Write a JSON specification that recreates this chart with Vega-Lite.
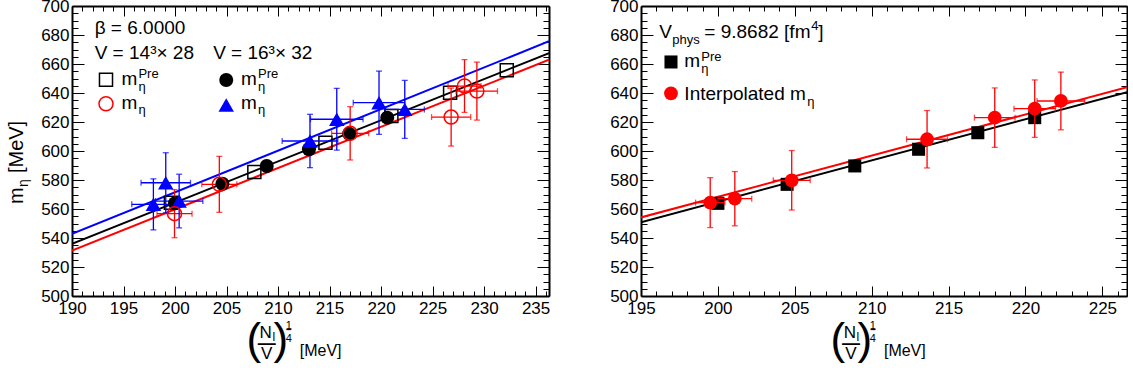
{
  "$schema": "https://vega.github.io/schema/vega-lite/v6.json",
  "background": "white",
  "padding": {"left": 6, "top": -3, "right": 0, "bottom": 0},
  "spacing": 59,
  "config": {"view": {"stroke": null}, "font": "Liberation Sans", "text": {"font": "Liberation Sans", "color": "black"}},
  "datasets": {
    "lLines": [
      {"series": "blue", "x": 190, "y": 542.8}, {"series": "blue", "x": 236.3, "y": 675.7},
      {"series": "black", "x": 190, "y": 536.0}, {"series": "black", "x": 236.3, "y": 667.5},
      {"series": "red", "x": 190, "y": 531.4}, {"series": "red", "x": 236.3, "y": 663.0}
    ],
    "lSq": [
      {"x": 199.6, "y": 564.3}, {"x": 207.7, "y": 585.5}, {"x": 214.6, "y": 605.7},
      {"x": 221.0, "y": 624.1}, {"x": 226.7, "y": 640.2}, {"x": 232.2, "y": 655.7}
    ],
    "lBC": [
      {"x": 200.0, "y": 564.0}, {"x": 204.6, "y": 577.4}, {"x": 208.9, "y": 589.7},
      {"x": 213.0, "y": 601.2}, {"x": 216.9, "y": 611.9}, {"x": 220.6, "y": 623.0}
    ],
    "lRC": [
      {"x": 199.95, "y": 556.8, "xlo": 198.25, "xhi": 201.65, "ylo": 540.2, "yhi": 573.4},
      {"x": 204.3, "y": 577.0, "xlo": 202.6, "xhi": 206.0, "ylo": 557.7, "yhi": 596.3},
      {"x": 217.0, "y": 612.2, "xlo": 215.2, "xhi": 218.8, "ylo": 593.8, "yhi": 630.6},
      {"x": 226.8, "y": 623.4, "xlo": 224.9, "xhi": 228.7, "ylo": 603.4, "yhi": 643.4},
      {"x": 228.1, "y": 644.8, "xlo": 226.5, "xhi": 229.7, "ylo": 626.6, "yhi": 663.0},
      {"x": 229.3, "y": 641.3, "xlo": 227.3, "xhi": 231.3, "ylo": 621.3, "yhi": 661.3}
    ],
    "lBT": [
      {"x": 197.9, "y": 563.2, "xlo": 195.8, "xhi": 200.0, "ylo": 545.6, "yhi": 580.8},
      {"x": 199.1, "y": 578.1, "xlo": 196.7, "xhi": 201.5, "ylo": 557.4, "yhi": 598.8},
      {"x": 200.4, "y": 565.5, "xlo": 198.1, "xhi": 202.7, "ylo": 547.0, "yhi": 584.0},
      {"x": 213.1, "y": 606.9, "xlo": 210.4, "xhi": 215.8, "ylo": 588.5, "yhi": 625.3},
      {"x": 215.7, "y": 621.9, "xlo": 213.15, "xhi": 218.25, "ylo": 600.6, "yhi": 643.2},
      {"x": 219.8, "y": 633.3, "xlo": 217.3, "xhi": 222.3, "ylo": 611.5, "yhi": 655.1},
      {"x": 222.3, "y": 628.7, "xlo": 220.4, "xhi": 224.2, "ylo": 608.7, "yhi": 648.7}
    ],
    "rLines": [
      {"series": "black", "x": 195, "y": 550.9}, {"series": "black", "x": 226.6, "y": 640.6},
      {"series": "red", "x": 195, "y": 554.2}, {"series": "red", "x": 226.6, "y": 644.0}
    ],
    "rSq": [
      {"x": 200.0, "y": 563.9}, {"x": 204.5, "y": 577.0}, {"x": 208.9, "y": 589.7},
      {"x": 213.05, "y": 601.2}, {"x": 216.9, "y": 612.6}, {"x": 220.6, "y": 623.0}
    ],
    "rRC": [
      {"x": 199.5, "y": 564.4, "xlo": 198.55, "xhi": 200.45, "ylo": 547.2, "yhi": 581.6},
      {"x": 201.1, "y": 567.1, "xlo": 200.0, "xhi": 202.2, "ylo": 548.4, "yhi": 585.8},
      {"x": 204.8, "y": 579.8, "xlo": 203.6, "xhi": 206.0, "ylo": 559.3, "yhi": 600.3},
      {"x": 213.6, "y": 608.1, "xlo": 212.27, "xhi": 214.93, "ylo": 588.3, "yhi": 627.9},
      {"x": 218.0, "y": 623.0, "xlo": 216.68, "xhi": 219.32, "ylo": 602.5, "yhi": 643.5},
      {"x": 220.6, "y": 629.2, "xlo": 219.25, "xhi": 221.95, "ylo": 609.4, "yhi": 649.0},
      {"x": 222.3, "y": 634.5, "xlo": 220.75, "xhi": 223.85, "ylo": 614.6, "yhi": 654.4}
    ]
  },
  "hconcat": [
    {
      "width": 477,
      "height": 290,
      "resolve": {"axis": {"x": "independent", "y": "independent"}},
      "layer": [
        {
          "data": {"name": "lLines"},
          "mark": {"type": "line", "strokeWidth": 2, "clip": true},
          "encoding": {
            "x": {"field": "x", "type": "quantitative", "scale": {"domain": [190, 236.3], "nice": false, "zero": false},
              "axis": {"orient": "bottom", "values": [190,191,192,193,194,195,196,197,198,199,200,201,202,203,204,205,206,207,208,209,210,211,212,213,214,215,216,217,218,219,220,221,222,223,224,225,226,227,228,229,230,231,232,233,234,235,236],
                "labelExpr": "datum.value % 5 === 0 ? datum.label : ''",
                "tickSize": {"condition": {"test": "datum.value % 5 === 0", "value": -10}, "value": -5},
                "tickColor": "black", "tickWidth": 1, "domainColor": "black", "domainWidth": 2,
                "labelColor": "black", "labelFont": "Liberation Sans", "labelFontSize": 17, "labelPadding": 14,
                "labelFlush": false, "labelOverlap": false, "labelBound": false, "grid": false, "title": null}},
            "y": {"field": "y", "type": "quantitative", "scale": {"domain": [500, 700], "nice": false, "zero": false},
              "axis": {"orient": "left", "values": [500,505,510,515,520,525,530,535,540,545,550,555,560,565,570,575,580,585,590,595,600,605,610,615,620,625,630,635,640,645,650,655,660,665,670,675,680,685,690,695,700],
                "labelExpr": "datum.value % 20 === 0 ? datum.label : ''",
                "tickSize": {"condition": {"test": "datum.value % 20 === 0", "value": -12}, "value": -6},
                "tickColor": "black", "tickWidth": 1, "domainColor": "black", "domainWidth": 2,
                "labelColor": "black", "labelFont": "Liberation Sans", "labelFontSize": 17, "labelPadding": 15,
                "labelFlush": false, "labelOverlap": false, "labelBound": false, "grid": false, "title": null}},
            "color": {"field": "series", "type": "nominal", "scale": {"domain": ["black", "blue", "red"], "range": ["#000000", "#0000ff", "#ff0000"]}, "legend": null}
          }
        },
        {
          "data": {"name": "lSq"},
          "mark": {"type": "point", "shape": "square", "filled": false, "stroke": "black", "strokeWidth": 1.5, "size": 170, "opacity": 1},
          "encoding": {
            "x": {"field": "x", "type": "quantitative",
              "axis": {"orient": "top", "values": [190,191,192,193,194,195,196,197,198,199,200,201,202,203,204,205,206,207,208,209,210,211,212,213,214,215,216,217,218,219,220,221,222,223,224,225,226,227,228,229,230,231,232,233,234,235,236],
                "labels": false, "tickSize": {"condition": {"test": "datum.value % 5 === 0", "value": -10}, "value": -5},
                "tickColor": "black", "tickWidth": 1, "domainColor": "black", "domainWidth": 2, "grid": false, "title": null}},
            "y": {"field": "y", "type": "quantitative",
              "axis": {"orient": "right", "values": [500,505,510,515,520,525,530,535,540,545,550,555,560,565,570,575,580,585,590,595,600,605,610,615,620,625,630,635,640,645,650,655,660,665,670,675,680,685,690,695,700],
                "labels": false, "tickSize": {"condition": {"test": "datum.value % 20 === 0", "value": -12}, "value": -6},
                "tickColor": "black", "tickWidth": 1, "domainColor": "black", "domainWidth": 2, "grid": false, "title": null}}
          }
        },
        {
          "data": {"name": "lRC"},
          "mark": {"type": "errorbar", "ticks": true, "color": "#ff0000", "thickness": 1.3, "size": 6},
          "encoding": {"x": {"field": "x", "type": "quantitative", "axis": null}, "y": {"field": "ylo", "type": "quantitative", "axis": null}, "y2": {"field": "yhi"}}
        },
        {
          "data": {"name": "lRC"},
          "mark": {"type": "errorbar", "ticks": true, "color": "#ff0000", "thickness": 1.3, "size": 6},
          "encoding": {"y": {"field": "y", "type": "quantitative", "axis": null}, "x": {"field": "xlo", "type": "quantitative", "axis": null}, "x2": {"field": "xhi"}}
        },
        {
          "data": {"name": "lBT"},
          "mark": {"type": "errorbar", "ticks": true, "color": "#0000ff", "thickness": 1.3, "size": 6},
          "encoding": {"x": {"field": "x", "type": "quantitative", "axis": null}, "y": {"field": "ylo", "type": "quantitative", "axis": null}, "y2": {"field": "yhi"}}
        },
        {
          "data": {"name": "lBT"},
          "mark": {"type": "errorbar", "ticks": true, "color": "#0000ff", "thickness": 1.3, "size": 6},
          "encoding": {"y": {"field": "y", "type": "quantitative", "axis": null}, "x": {"field": "xlo", "type": "quantitative", "axis": null}, "x2": {"field": "xhi"}}
        },
        {
          "data": {"name": "lBC"},
          "mark": {"type": "point", "shape": "circle", "filled": true, "color": "black", "size": 196, "opacity": 1},
          "encoding": {"x": {"field": "x", "type": "quantitative", "axis": null}, "y": {"field": "y", "type": "quantitative", "axis": null}}
        },
        {
          "data": {"name": "lBT"},
          "mark": {"type": "point", "shape": "triangle-up", "filled": true, "color": "#0000ff", "size": 240, "opacity": 1},
          "encoding": {"x": {"field": "x", "type": "quantitative", "axis": null}, "y": {"field": "y", "type": "quantitative", "axis": null}}
        },
        {
          "data": {"name": "lRC"},
          "mark": {"type": "point", "shape": "circle", "filled": false, "stroke": "#ff0000", "strokeWidth": 1.5, "size": 196, "opacity": 1},
          "encoding": {"x": {"field": "x", "type": "quantitative", "axis": null}, "y": {"field": "y", "type": "quantitative", "axis": null}}
        },
        {"data": {"values": [{}]}, "mark": {"type": "text", "text": "β = 6.0000", "fontSize": 19, "align": "left", "baseline": "alphabetic"},
          "encoding": {"x": {"datum": 192.2, "axis": null}, "y": {"datum": 680.5, "axis": null}}},
        {"data": {"values": [{}]}, "mark": {"type": "text", "text": "V = 14³× 28", "fontSize": 19, "align": "left", "baseline": "alphabetic"},
          "encoding": {"x": {"datum": 192.2, "axis": null}, "y": {"datum": 663.2, "axis": null}}},
        {"data": {"values": [{}]}, "mark": {"type": "text", "text": "V = 16³× 32", "fontSize": 19, "align": "left", "baseline": "alphabetic"},
          "encoding": {"x": {"datum": 203.7, "axis": null}, "y": {"datum": 663.2, "axis": null}}},
        {"data": {"values": [{}]}, "mark": {"type": "point", "shape": "square", "filled": false, "stroke": "black", "strokeWidth": 1.5, "size": 170, "opacity": 1},
          "encoding": {"x": {"datum": 193.3, "axis": null}, "y": {"datum": 649.2, "axis": null}}},
        {"data": {"values": [{}]}, "mark": {"type": "point", "shape": "circle", "filled": false, "stroke": "#ff0000", "strokeWidth": 1.5, "size": 196, "opacity": 1},
          "encoding": {"x": {"datum": 193.3, "axis": null}, "y": {"datum": 632.6, "axis": null}}},
        {"data": {"values": [{}]}, "mark": {"type": "point", "shape": "circle", "filled": true, "color": "black", "size": 196, "opacity": 1},
          "encoding": {"x": {"datum": 204.97, "axis": null}, "y": {"datum": 649.0, "axis": null}}},
        {"data": {"values": [{}]}, "mark": {"type": "point", "shape": "triangle-up", "filled": true, "color": "#0000ff", "size": 240, "opacity": 1},
          "encoding": {"x": {"datum": 204.97, "axis": null}, "y": {"datum": 631.7, "axis": null}}},
        {"data": {"values": [{}]}, "mark": {"type": "text", "text": "m", "fontSize": 19, "align": "left", "baseline": "alphabetic"},
          "encoding": {"x": {"datum": 194.8, "axis": null}, "y": {"datum": 645.5, "axis": null}}},
        {"data": {"values": [{}]}, "mark": {"type": "text", "text": "Pre", "fontSize": 13, "align": "left", "baseline": "alphabetic", "dx": 17, "dy": -7},
          "encoding": {"x": {"datum": 194.8, "axis": null}, "y": {"datum": 645.5, "axis": null}}},
        {"data": {"values": [{}]}, "mark": {"type": "text", "text": "η", "fontSize": 13, "align": "left", "baseline": "alphabetic", "dx": 17, "dy": 6},
          "encoding": {"x": {"datum": 194.8, "axis": null}, "y": {"datum": 645.5, "axis": null}}},
        {"data": {"values": [{}]}, "mark": {"type": "text", "text": "m", "fontSize": 19, "align": "left", "baseline": "alphabetic"},
          "encoding": {"x": {"datum": 194.8, "axis": null}, "y": {"datum": 628.8, "axis": null}}},
        {"data": {"values": [{}]}, "mark": {"type": "text", "text": "η", "fontSize": 13, "align": "left", "baseline": "alphabetic", "dx": 17, "dy": 5},
          "encoding": {"x": {"datum": 194.8, "axis": null}, "y": {"datum": 628.8, "axis": null}}},
        {"data": {"values": [{}]}, "mark": {"type": "text", "text": "m", "fontSize": 19, "align": "left", "baseline": "alphabetic"},
          "encoding": {"x": {"datum": 206.4, "axis": null}, "y": {"datum": 645.5, "axis": null}}},
        {"data": {"values": [{}]}, "mark": {"type": "text", "text": "Pre", "fontSize": 13, "align": "left", "baseline": "alphabetic", "dx": 17, "dy": -7},
          "encoding": {"x": {"datum": 206.4, "axis": null}, "y": {"datum": 645.5, "axis": null}}},
        {"data": {"values": [{}]}, "mark": {"type": "text", "text": "η", "fontSize": 13, "align": "left", "baseline": "alphabetic", "dx": 17, "dy": 6},
          "encoding": {"x": {"datum": 206.4, "axis": null}, "y": {"datum": 645.5, "axis": null}}},
        {"data": {"values": [{}]}, "mark": {"type": "text", "text": "m", "fontSize": 19, "align": "left", "baseline": "alphabetic"},
          "encoding": {"x": {"datum": 206.4, "axis": null}, "y": {"datum": 628.8, "axis": null}}},
        {"data": {"values": [{}]}, "mark": {"type": "text", "text": "η", "fontSize": 13, "align": "left", "baseline": "alphabetic", "dx": 17, "dy": 5},
          "encoding": {"x": {"datum": 206.4, "axis": null}, "y": {"datum": 628.8, "axis": null}}},
        {"data": {"values": [{}]}, "mark": {"type": "text", "text": "m", "fontSize": 20, "align": "left", "baseline": "alphabetic", "angle": 270},
          "encoding": {"x": {"datum": 185.2, "axis": null}, "y": {"datum": 563.4, "axis": null}}},
        {"data": {"values": [{}]}, "mark": {"type": "text", "text": "η", "fontSize": 14, "align": "left", "baseline": "alphabetic", "angle": 270, "dx": 17, "dy": 5},
          "encoding": {"x": {"datum": 185.2, "axis": null}, "y": {"datum": 563.4, "axis": null}}},
        {"data": {"values": [{}]}, "mark": {"type": "text", "text": "[MeV]", "fontSize": 20, "align": "left", "baseline": "alphabetic", "angle": 270, "dx": 31},
          "encoding": {"x": {"datum": 185.2, "axis": null}, "y": {"datum": 563.4, "axis": null}}},
        {"data": {"values": [{}]}, "mark": {"type": "text", "text": "(", "fontSize": 44, "align": "center", "baseline": "alphabetic", "dx": -13, "dy": 58},
          "encoding": {"x": {"datum": 208.9, "axis": null}, "y": {"datum": 500, "axis": null}}},
        {"data": {"values": [{}]}, "mark": {"type": "text", "text": ")", "fontSize": 44, "align": "center", "baseline": "alphabetic", "dx": 14, "dy": 58},
          "encoding": {"x": {"datum": 208.9, "axis": null}, "y": {"datum": 500, "axis": null}}},
        {"data": {"values": [{}]}, "mark": {"type": "text", "text": "N", "fontSize": 17, "align": "center", "baseline": "alphabetic", "dx": -1, "dy": 42},
          "encoding": {"x": {"datum": 208.9, "axis": null}, "y": {"datum": 500, "axis": null}}},
        {"data": {"values": [{}]}, "mark": {"type": "text", "text": "l", "fontSize": 12, "align": "center", "baseline": "alphabetic", "dx": 7, "dy": 45},
          "encoding": {"x": {"datum": 208.9, "axis": null}, "y": {"datum": 500, "axis": null}}},
        {"data": {"values": [{}]}, "mark": {"type": "text", "text": "—", "fontSize": 18, "fontWeight": "bold", "align": "center", "baseline": "alphabetic", "dx": 0, "dy": 53},
          "encoding": {"x": {"datum": 208.9, "axis": null}, "y": {"datum": 500, "axis": null}}},
        {"data": {"values": [{}]}, "mark": {"type": "text", "text": "V", "fontSize": 17, "align": "center", "baseline": "alphabetic", "dx": 0, "dy": 63},
          "encoding": {"x": {"datum": 208.9, "axis": null}, "y": {"datum": 500, "axis": null}}},
        {"data": {"values": [{}]}, "mark": {"type": "text", "text": "1", "fontSize": 11, "align": "center", "baseline": "alphabetic", "dx": 22, "dy": 33},
          "encoding": {"x": {"datum": 208.9, "axis": null}, "y": {"datum": 500, "axis": null}}},
        {"data": {"values": [{}]}, "mark": {"type": "text", "text": "–", "fontSize": 10, "fontWeight": "bold", "align": "center", "baseline": "alphabetic", "dx": 22, "dy": 37},
          "encoding": {"x": {"datum": 208.9, "axis": null}, "y": {"datum": 500, "axis": null}}},
        {"data": {"values": [{}]}, "mark": {"type": "text", "text": "4", "fontSize": 11, "align": "center", "baseline": "alphabetic", "dx": 22, "dy": 46},
          "encoding": {"x": {"datum": 208.9, "axis": null}, "y": {"datum": 500, "axis": null}}},
        {"data": {"values": [{}]}, "mark": {"type": "text", "text": "[MeV]", "fontSize": 16, "align": "left", "baseline": "alphabetic", "dx": 33, "dy": 60},
          "encoding": {"x": {"datum": 208.9, "axis": null}, "y": {"datum": 500, "axis": null}}}
      ]
    },
    {
      "width": 486,
      "height": 290,
      "resolve": {"axis": {"x": "independent", "y": "independent"}},
      "layer": [
        {
          "data": {"name": "rLines"},
          "mark": {"type": "line", "strokeWidth": 2, "clip": true},
          "encoding": {
            "x": {"field": "x", "type": "quantitative", "scale": {"domain": [195, 226.6], "nice": false, "zero": false},
              "axis": {"orient": "bottom", "values": [195,196,197,198,199,200,201,202,203,204,205,206,207,208,209,210,211,212,213,214,215,216,217,218,219,220,221,222,223,224,225,226],
                "labelExpr": "datum.value % 5 === 0 ? datum.label : ''",
                "tickSize": {"condition": {"test": "datum.value % 5 === 0", "value": -10}, "value": -5},
                "tickColor": "black", "tickWidth": 1, "domainColor": "black", "domainWidth": 2,
                "labelColor": "black", "labelFont": "Liberation Sans", "labelFontSize": 17, "labelPadding": 14,
                "labelFlush": false, "labelOverlap": false, "labelBound": false, "grid": false, "title": null}},
            "y": {"field": "y", "type": "quantitative", "scale": {"domain": [500, 700], "nice": false, "zero": false},
              "axis": {"orient": "left", "values": [500,505,510,515,520,525,530,535,540,545,550,555,560,565,570,575,580,585,590,595,600,605,610,615,620,625,630,635,640,645,650,655,660,665,670,675,680,685,690,695,700],
                "labelExpr": "datum.value % 20 === 0 ? datum.label : ''",
                "tickSize": {"condition": {"test": "datum.value % 20 === 0", "value": -12}, "value": -6},
                "tickColor": "black", "tickWidth": 1, "domainColor": "black", "domainWidth": 2,
                "labelColor": "black", "labelFont": "Liberation Sans", "labelFontSize": 17, "labelPadding": 15,
                "labelFlush": false, "labelOverlap": false, "labelBound": false, "grid": false, "title": null}},
            "color": {"field": "series", "type": "nominal", "scale": {"domain": ["black", "red"], "range": ["#000000", "#ff0000"]}, "legend": null}
          }
        },
        {
          "data": {"name": "rSq"},
          "mark": {"type": "point", "shape": "square", "filled": true, "color": "black", "size": 170, "opacity": 1},
          "encoding": {
            "x": {"field": "x", "type": "quantitative",
              "axis": {"orient": "top", "values": [195,196,197,198,199,200,201,202,203,204,205,206,207,208,209,210,211,212,213,214,215,216,217,218,219,220,221,222,223,224,225,226],
                "labels": false, "tickSize": {"condition": {"test": "datum.value % 5 === 0", "value": -10}, "value": -5},
                "tickColor": "black", "tickWidth": 1, "domainColor": "black", "domainWidth": 2, "grid": false, "title": null}},
            "y": {"field": "y", "type": "quantitative",
              "axis": {"orient": "right", "values": [500,505,510,515,520,525,530,535,540,545,550,555,560,565,570,575,580,585,590,595,600,605,610,615,620,625,630,635,640,645,650,655,660,665,670,675,680,685,690,695,700],
                "labels": false, "tickSize": {"condition": {"test": "datum.value % 20 === 0", "value": -12}, "value": -6},
                "tickColor": "black", "tickWidth": 1, "domainColor": "black", "domainWidth": 2, "grid": false, "title": null}}
          }
        },
        {
          "data": {"name": "rRC"},
          "mark": {"type": "errorbar", "ticks": true, "color": "#ff0000", "thickness": 1.3, "size": 6},
          "encoding": {"x": {"field": "x", "type": "quantitative", "axis": null}, "y": {"field": "ylo", "type": "quantitative", "axis": null}, "y2": {"field": "yhi"}}
        },
        {
          "data": {"name": "rRC"},
          "mark": {"type": "errorbar", "ticks": true, "color": "#ff0000", "thickness": 1.3, "size": 6},
          "encoding": {"y": {"field": "y", "type": "quantitative", "axis": null}, "x": {"field": "xlo", "type": "quantitative", "axis": null}, "x2": {"field": "xhi"}}
        },
        {
          "data": {"name": "rRC"},
          "mark": {"type": "point", "shape": "circle", "filled": true, "color": "#ff0000", "size": 190, "opacity": 1},
          "encoding": {"x": {"field": "x", "type": "quantitative", "axis": null}, "y": {"field": "y", "type": "quantitative", "axis": null}}
        },
        {"data": {"values": [{}]}, "mark": {"type": "text", "text": "V", "fontSize": 19, "align": "left", "baseline": "alphabetic"},
          "encoding": {"x": {"datum": 196.19, "axis": null}, "y": {"datum": 677.7, "axis": null}}},
        {"data": {"values": [{}]}, "mark": {"type": "text", "text": "phys", "fontSize": 13, "align": "left", "baseline": "alphabetic", "dx": 13, "dy": 6},
          "encoding": {"x": {"datum": 196.19, "axis": null}, "y": {"datum": 677.7, "axis": null}}},
        {"data": {"values": [{}]}, "mark": {"type": "text", "text": "= 9.8682 [fm", "fontSize": 19, "align": "left", "baseline": "alphabetic", "dx": 45},
          "encoding": {"x": {"datum": 196.19, "axis": null}, "y": {"datum": 677.7, "axis": null}}},
        {"data": {"values": [{}]}, "mark": {"type": "text", "text": "4", "fontSize": 13, "align": "left", "baseline": "alphabetic", "dx": 152, "dy": -8},
          "encoding": {"x": {"datum": 196.19, "axis": null}, "y": {"datum": 677.7, "axis": null}}},
        {"data": {"values": [{}]}, "mark": {"type": "text", "text": "]", "fontSize": 19, "align": "left", "baseline": "alphabetic", "dx": 159},
          "encoding": {"x": {"datum": 196.19, "axis": null}, "y": {"datum": 677.7, "axis": null}}},
        {"data": {"values": [{}]}, "mark": {"type": "point", "shape": "square", "filled": true, "color": "black", "size": 170, "opacity": 1},
          "encoding": {"x": {"datum": 196.95, "axis": null}, "y": {"datum": 661.4, "axis": null}}},
        {"data": {"values": [{}]}, "mark": {"type": "point", "shape": "circle", "filled": true, "color": "#ff0000", "size": 190, "opacity": 1},
          "encoding": {"x": {"datum": 196.95, "axis": null}, "y": {"datum": 639.8, "axis": null}}},
        {"data": {"values": [{}]}, "mark": {"type": "text", "text": "m", "fontSize": 19, "align": "left", "baseline": "alphabetic"},
          "encoding": {"x": {"datum": 197.82, "axis": null}, "y": {"datum": 657.9, "axis": null}}},
        {"data": {"values": [{}]}, "mark": {"type": "text", "text": "Pre", "fontSize": 13, "align": "left", "baseline": "alphabetic", "dx": 17, "dy": -6},
          "encoding": {"x": {"datum": 197.82, "axis": null}, "y": {"datum": 657.9, "axis": null}}},
        {"data": {"values": [{}]}, "mark": {"type": "text", "text": "η", "fontSize": 13, "align": "left", "baseline": "alphabetic", "dx": 17, "dy": 6},
          "encoding": {"x": {"datum": 197.82, "axis": null}, "y": {"datum": 657.9, "axis": null}}},
        {"data": {"values": [{}]}, "mark": {"type": "text", "text": "Interpolated m", "fontSize": 19, "align": "left", "baseline": "alphabetic"},
          "encoding": {"x": {"datum": 197.82, "axis": null}, "y": {"datum": 635.2, "axis": null}}},
        {"data": {"values": [{}]}, "mark": {"type": "text", "text": "η", "fontSize": 13, "align": "left", "baseline": "alphabetic", "dx": 123, "dy": 6},
          "encoding": {"x": {"datum": 197.82, "axis": null}, "y": {"datum": 635.2, "axis": null}}},
        {"data": {"values": [{}]}, "mark": {"type": "text", "text": "(", "fontSize": 44, "align": "center", "baseline": "alphabetic", "dx": -13, "dy": 58},
          "encoding": {"x": {"datum": 208.65, "axis": null}, "y": {"datum": 500, "axis": null}}},
        {"data": {"values": [{}]}, "mark": {"type": "text", "text": ")", "fontSize": 44, "align": "center", "baseline": "alphabetic", "dx": 14, "dy": 58},
          "encoding": {"x": {"datum": 208.65, "axis": null}, "y": {"datum": 500, "axis": null}}},
        {"data": {"values": [{}]}, "mark": {"type": "text", "text": "N", "fontSize": 17, "align": "center", "baseline": "alphabetic", "dx": -1, "dy": 42},
          "encoding": {"x": {"datum": 208.65, "axis": null}, "y": {"datum": 500, "axis": null}}},
        {"data": {"values": [{}]}, "mark": {"type": "text", "text": "l", "fontSize": 12, "align": "center", "baseline": "alphabetic", "dx": 7, "dy": 45},
          "encoding": {"x": {"datum": 208.65, "axis": null}, "y": {"datum": 500, "axis": null}}},
        {"data": {"values": [{}]}, "mark": {"type": "text", "text": "—", "fontSize": 18, "fontWeight": "bold", "align": "center", "baseline": "alphabetic", "dx": 0, "dy": 53},
          "encoding": {"x": {"datum": 208.65, "axis": null}, "y": {"datum": 500, "axis": null}}},
        {"data": {"values": [{}]}, "mark": {"type": "text", "text": "V", "fontSize": 17, "align": "center", "baseline": "alphabetic", "dx": 0, "dy": 63},
          "encoding": {"x": {"datum": 208.65, "axis": null}, "y": {"datum": 500, "axis": null}}},
        {"data": {"values": [{}]}, "mark": {"type": "text", "text": "1", "fontSize": 11, "align": "center", "baseline": "alphabetic", "dx": 22, "dy": 33},
          "encoding": {"x": {"datum": 208.65, "axis": null}, "y": {"datum": 500, "axis": null}}},
        {"data": {"values": [{}]}, "mark": {"type": "text", "text": "–", "fontSize": 10, "fontWeight": "bold", "align": "center", "baseline": "alphabetic", "dx": 22, "dy": 37},
          "encoding": {"x": {"datum": 208.65, "axis": null}, "y": {"datum": 500, "axis": null}}},
        {"data": {"values": [{}]}, "mark": {"type": "text", "text": "4", "fontSize": 11, "align": "center", "baseline": "alphabetic", "dx": 22, "dy": 46},
          "encoding": {"x": {"datum": 208.65, "axis": null}, "y": {"datum": 500, "axis": null}}},
        {"data": {"values": [{}]}, "mark": {"type": "text", "text": "[MeV]", "fontSize": 16, "align": "left", "baseline": "alphabetic", "dx": 33, "dy": 60},
          "encoding": {"x": {"datum": 208.65, "axis": null}, "y": {"datum": 500, "axis": null}}}
      ]
    }
  ]
}
